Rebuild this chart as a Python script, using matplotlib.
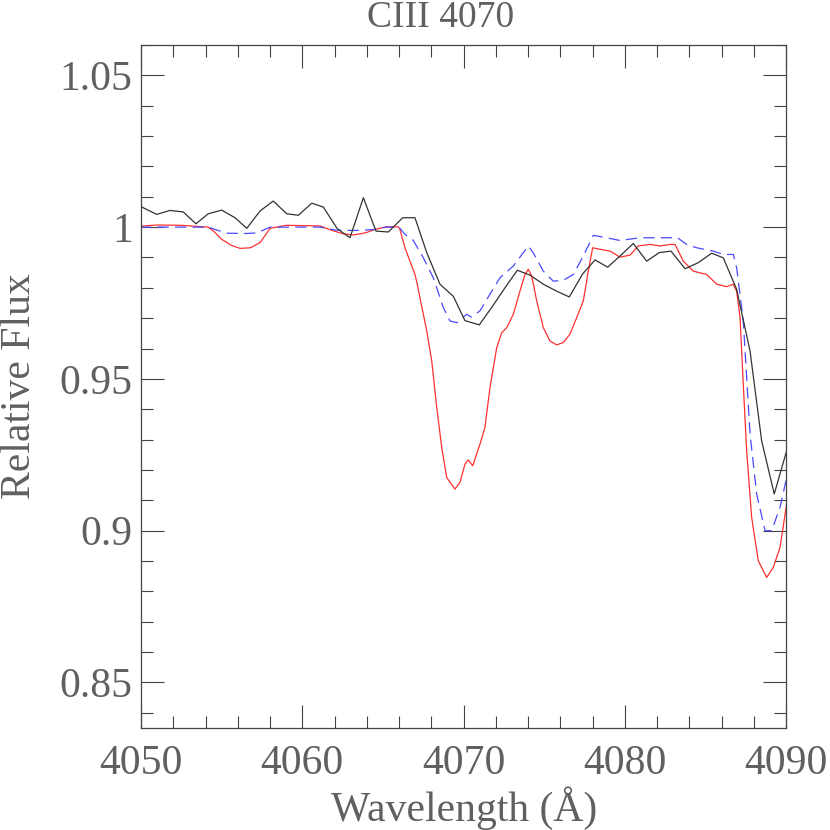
import matplotlib
matplotlib.use("Agg")
import matplotlib.pyplot as plt
from matplotlib.ticker import MultipleLocator, FixedLocator

# ---------------- data ----------------
obs_wave = [4049.94, 4050.97, 4051.80, 4052.62, 4053.41, 4054.17, 4055.00, 4055.83,
            4056.56, 4057.38, 4058.20, 4059.04, 4059.76, 4060.59, 4061.31, 4062.17,
            4062.96, 4063.79, 4064.57, 4065.34, 4066.23, 4066.99, 4067.72, 4068.54,
            4069.37, 4070.09, 4070.98, 4071.77, 4072.57, 4073.34, 4074.12, 4074.95,
            4075.74, 4076.56, 4077.39, 4078.16, 4078.94, 4079.71, 4080.53, 4081.36,
            4082.14, 4082.87, 4083.74, 4084.56, 4085.39, 4086.11, 4086.94, 4087.77,
            4088.49, 4089.27, 4090.04]
obs_flux = [1.0069, 1.0042, 1.0055, 1.0050, 1.0011, 1.0044, 1.0056, 1.0031,
            0.9996, 1.0053, 1.0086, 1.0044, 1.0039, 1.0079, 1.0066, 0.9995,
            0.9965, 1.0097, 0.9987, 0.9984, 1.0031, 1.0031, 0.9916, 0.9812,
            0.9772, 0.9692, 0.9678, 0.9737, 0.9800, 0.9858, 0.9842, 0.9812,
            0.9790, 0.9770, 0.9846, 0.9892, 0.9868, 0.9905, 0.9946, 0.9888,
            0.9916, 0.9921, 0.9863, 0.9883, 0.9914, 0.9899, 0.9795, 0.9592,
            0.9296, 0.9121, 0.9263]

model_wave = [4049.94, 4051.0, 4052.5, 4054.16, 4054.5, 4055.0, 4055.6, 4056.14,
              4056.8, 4057.4, 4058.0, 4059.0, 4060.0, 4061.1, 4061.8, 4062.55,
              4063.15, 4063.9, 4064.5, 4065.19, 4065.96, 4066.06, 4066.37, 4066.99,
              4067.1, 4067.3, 4067.72, 4068.03, 4068.34, 4068.65, 4068.96, 4069.47,
              4069.78, 4070.09, 4070.30, 4070.57, 4071.02, 4071.33, 4071.64, 4072.06,
              4072.37, 4072.68, 4073.09, 4073.50, 4073.81, 4074.02, 4074.23, 4074.54,
              4074.95, 4075.36, 4075.78, 4076.19, 4076.60, 4077.02, 4077.43, 4077.74,
              4078.01, 4078.47, 4079.09, 4079.71, 4080.33, 4080.84, 4081.57, 4082.19,
              4082.81, 4083.12, 4083.63, 4084.25, 4085.08, 4085.70, 4086.32, 4086.73,
              4086.94, 4087.15, 4087.35, 4087.56, 4087.87, 4088.28, 4088.80, 4089.21,
              4089.63, 4090.04]
model_flux = [1.0003, 1.0007, 1.0006, 1.0000, 0.9987, 0.9960, 0.9940, 0.9930,
              0.9932, 0.9950, 0.9996, 1.0006, 1.0005, 1.0004, 0.9990, 0.9978,
              0.9974, 0.9981, 0.9992, 1.0001, 1.0001, 0.9992, 0.9932, 0.9844,
              0.9820, 0.9767, 0.9658, 0.9559, 0.9406, 0.9274, 0.9175, 0.9137,
              0.9159, 0.9219, 0.9233, 0.9214, 0.9285, 0.9340, 0.9471, 0.9603,
              0.9652, 0.9669, 0.9713, 0.9789, 0.9844, 0.9861, 0.9839, 0.9757,
              0.9669, 0.9625, 0.9612, 0.9620, 0.9647, 0.9702, 0.9757, 0.9855,
              0.9932, 0.9927, 0.9921, 0.9901, 0.9908, 0.9938, 0.9943, 0.9938,
              0.9943, 0.9943, 0.9888, 0.9855, 0.9844, 0.9812, 0.9804, 0.9812,
              0.9789, 0.9702, 0.9483, 0.9263, 0.9044, 0.8901, 0.8846, 0.8879,
              0.8945, 0.9088]

conv_wave = [4049.94, 4052.0, 4054.16, 4055.3, 4056.5, 4057.2, 4058.0, 4061.1,
             4062.1, 4063.3, 4064.4, 4065.2, 4066.0, 4066.37, 4066.89, 4067.51,
             4068.13, 4068.75, 4069.16, 4069.58, 4070.20, 4070.47, 4071.02, 4071.64,
             4072.26, 4073.09, 4074.02, 4074.33, 4074.95, 4075.57, 4076.19, 4076.81,
             4077.43, 4078.05, 4078.67, 4079.71, 4080.95, 4082.81, 4083.22, 4083.84,
             4084.46, 4085.49, 4086.11, 4086.73, 4086.94, 4087.35, 4087.77, 4088.18,
             4088.70, 4089.11, 4089.63, 4090.04]
conv_flux = [1.0000, 1.0000, 1.0000, 0.9980, 0.9979, 0.9981, 1.0000, 1.0000,
             0.9990, 0.9989, 0.9992, 1.0000, 1.0000, 0.9976, 0.9956, 0.9899,
             0.9833, 0.9735, 0.9691, 0.9685, 0.9713, 0.9704, 0.9724, 0.9779,
             0.9833, 0.9872, 0.9938, 0.9915, 0.9855, 0.9822, 0.9825, 0.9844,
             0.9905, 0.9973, 0.9967, 0.9956, 0.9965, 0.9965, 0.9967, 0.9943,
             0.9932, 0.9921, 0.9910, 0.9910, 0.9866, 0.9691, 0.9319, 0.9121,
             0.9000, 0.9000, 0.9077, 0.9175]

x_ticks = [4050, 4060, 4070, 4080, 4090]
y_ticks = [0.85, 0.9, 0.95, 1.0, 1.05]
y_tick_labels = ["0.85", "0.9", "0.95", "1", "1.05"]

# ---------------- figure ----------------
TXT = "#606060"
FONT = "Liberation Serif"

fig = plt.figure(figsize=(8.3, 8.3), dpi=100)
ax = fig.add_axes([141 / 830, 102 / 830, 645 / 830, 683 / 830])

ax.plot(obs_wave, obs_flux, color="#333333", lw=0.9, zorder=3)
ax.plot(model_wave, model_flux, color="#ff3030", lw=0.9, zorder=2)
lb, = ax.plot(conv_wave, conv_flux, color="#4a4aff", lw=0.9, zorder=2)
lb.set_dashes((9, 5))

ax.set_xlim(4050, 4090)
ax.set_ylim(0.835, 1.06)

ax.xaxis.set_major_locator(FixedLocator(x_ticks))
ax.xaxis.set_minor_locator(MultipleLocator(2))
ax.yaxis.set_major_locator(FixedLocator(y_ticks))
ax.yaxis.set_minor_locator(MultipleLocator(0.01))
ax.set_yticklabels(y_tick_labels)
ax.set_xticklabels([str(v) for v in x_ticks])

ax.tick_params(which="both", direction="in", top=True, right=True,
               colors="#444444", labelcolor=TXT, width=0.8)
ax.tick_params(which="major", length=16.5, labelsize=30, pad=8)
ax.tick_params(which="minor", length=8.5)
for lbl in ax.get_xticklabels() + ax.get_yticklabels():
    lbl.set_fontfamily(FONT)
ax.tick_params(axis="x", which="major", pad=12)
ax.tick_params(axis="y", which="major", pad=6)

for s in ax.spines.values():
    s.set_color("#444444")
    s.set_linewidth(0.9)

fig.text(464 / 830, 1 - 808 / 830, "Wavelength (Å)", ha="center", va="center",
         fontsize=30, color=TXT, family=FONT)
fig.text(20 / 830, 1 - 386 / 830, "Relative Flux", ha="center", va="center",
         rotation=90, fontsize=30, color=TXT, family=FONT)
fig.text(441 / 830, 1 - 18 / 830, "CIII 4070", ha="center", va="center",
         fontsize=27, color=TXT, family=FONT)

fig.savefig("out.png", dpi=100)
